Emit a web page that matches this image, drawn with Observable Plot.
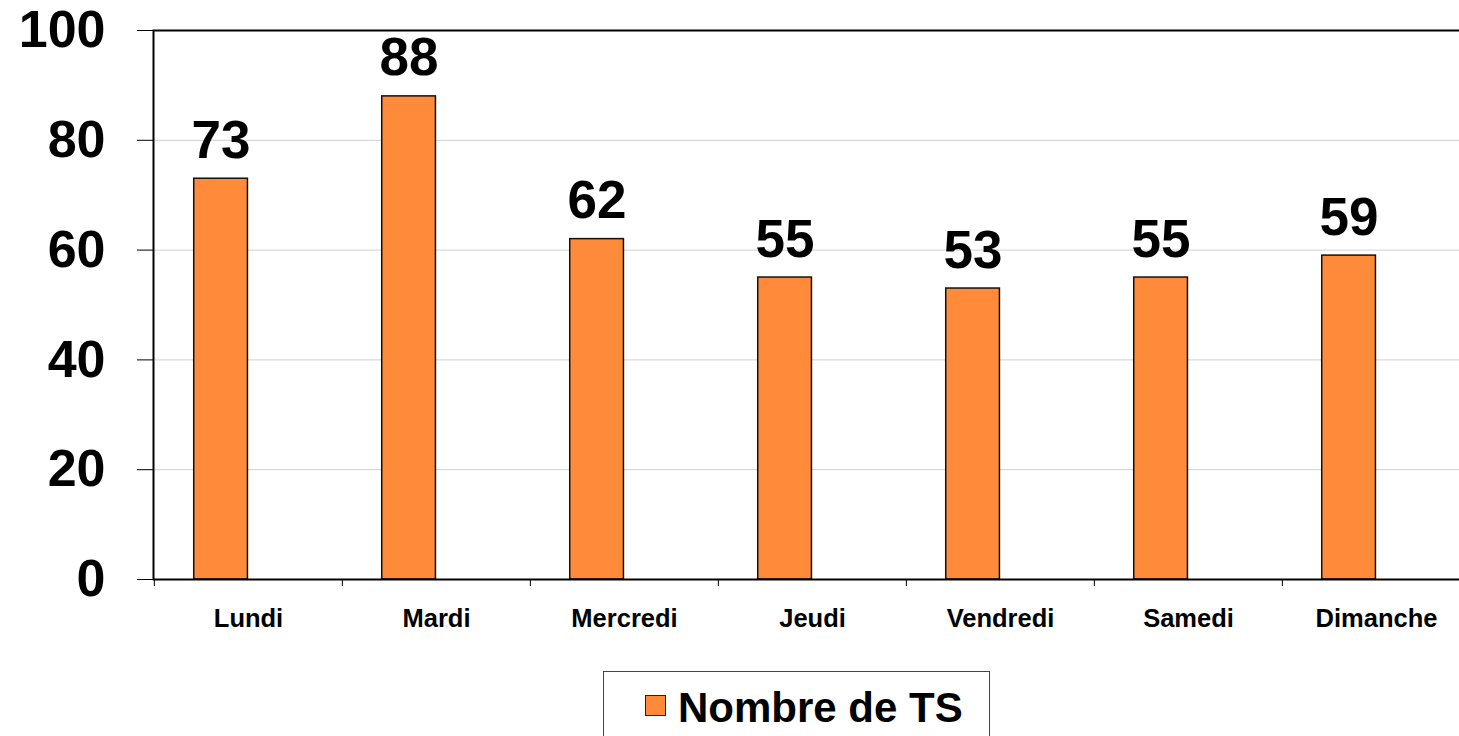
<!DOCTYPE html>
<html><head><meta charset="utf-8">
<script src="https://cdn.jsdelivr.net/npm/d3@7"></script>
<script src="https://cdn.jsdelivr.net/npm/@observablehq/plot@0.6"></script>
<style>
html,body{margin:0;padding:0;overflow:hidden;background:#fff;width:1459px;height:736px}
#chart{position:absolute;left:0;top:0;width:1471px}
#chart svg{max-width:none !important}
#legend{position:absolute;left:603px;top:671px;width:387px;height:80px;border:1px solid #444;box-sizing:border-box;
  font-family:"Liberation Sans",Arial,sans-serif;font-weight:bold;font-size:42px;color:#000;}
#legend .sw{position:absolute;left:41px;top:23px;width:19px;height:19px;border:1px solid #222;}
#legend .lb{position:absolute;left:74px;top:12px;line-height:48px;white-space:nowrap}
</style></head><body>
<div id="chart"></div>
<div id="legend"><span class="sw"></span><span class="lb"></span></div>
<script>
const days = ["Lundi","Mardi","Mercredi","Jeudi","Vendredi","Samedi","Dimanche"];
const counts = [73, 88, 62, 55, 53, 55, 59];
const yTicks = [0, 20, 40, 60, 80, 100];
const gridTicks = [20, 40, 60, 80];
const seriesName = "Nombre de TS";
const barColor = "#FF8A3A";

const data = days.map((d, i) => ({day: d, value: counts[i]}));
const W = 1471, ML = 153;
const bw = (W - ML) / days.length;
const font = "'Liberation Sans', Arial, sans-serif";

const chart = Plot.plot({
  width: W, height: 650,
  marginLeft: ML, marginRight: 0, marginTop: 30, marginBottom: 71,
  style: {fontFamily: font, fontWeight: "bold", color: "#000", background: "#fff", overflow: "visible", maxWidth: "none"},
  x: {type: "band", domain: days, padding: 0, label: null},
  y: {domain: [0, 100], label: null},
  marks: [
    Plot.gridY(gridTicks, {stroke: "#d0d0d0", strokeOpacity: 1, strokeWidth: 1}),
    Plot.barY(data, {x: "day", y: "value", fill: barColor, stroke: "#111", strokeWidth: 1.5,
      insetLeft: bw * 0.211, insetRight: bw - bw * 0.211 - 54}),
    Plot.text(data, {x: "day", y: "value", text: d => String(d.value), dx: -(bw / 2 - bw * 0.211 - 27), dy: -21,
      lineAnchor: "bottom", fontSize: 53, fontWeight: "bold", fill: "#000"}),
    Plot.axisY({ticks: yTicks, tickSize: 16, tickPadding: 32, fontSize: 52, fontWeight: "bold", stroke: "#000", label: null}),
    Plot.axisX({ticks: days, tickSize: 7, tickFormat: () => "", dx: -bw / 2, stroke: "#000", label: null}),
    Plot.axisX({ticks: days, tickSize: 0, tickPadding: 29, fontSize: 25.5, fontWeight: "bold", label: null}),
    Plot.frame({stroke: "#000", strokeWidth: 2})
  ]
});
document.getElementById("chart").appendChild(chart);
document.querySelector("#legend .sw").style.background = barColor;
document.querySelector("#legend .lb").textContent = seriesName;
</script>
</body></html>
